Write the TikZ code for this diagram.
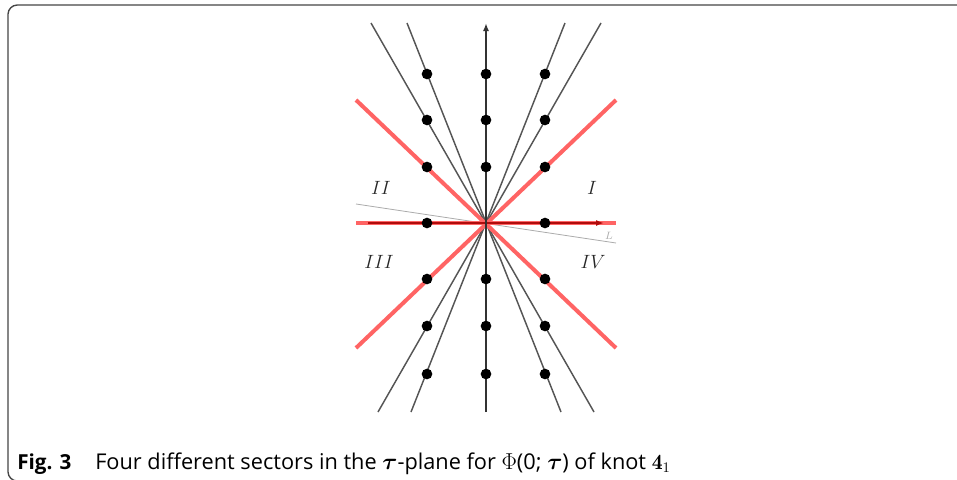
\documentclass[tikz,border=0pt]{standalone}
\usepackage{bm}
\usepackage{fontspec}
\setsansfont{Open Sans}
\usetikzlibrary{arrows.meta}
\definecolor{Salmon}{HTML}{FF6464}
\definecolor{DeepRed}{HTML}{B00C0C}
\definecolor{RayGray}{HTML}{555555}
\definecolor{AxisInk}{HTML}{333333}
\definecolor{FaintGray}{HTML}{ABABAB}
\definecolor{FrameInk}{HTML}{454545}
\tikzset{
  frame/.style={draw=FrameInk, line width=1pt, rounded corners=7pt},
  ray/.style={line width=1.1pt, draw=RayGray},
  faintray/.style={line width=0.6pt, draw=FaintGray},
  sector/.style={line width=3pt, draw=Salmon},
  realaxis/.style={-{Latex[length=6pt,width=4.5pt]}, line width=1.4pt, draw=DeepRed},
  imagaxis/.style={-{Latex[length=6pt,width=4.5pt]}, line width=1.4pt, draw=AxisInk},
  pole/.style={circle, fill=black, inner sep=0pt, minimum size=8pt},
  region/.style={font=\fontsize{13.5}{15}\selectfont, text=black!85},
  caption/.style={anchor=base west, inner sep=0pt, font=\sffamily\fontsize{15.5}{18}\selectfont}
}

\begin{document}
\begin{tikzpicture}[x=0.75pt,y=-0.75pt]
  \useasboundingbox (0,0) rectangle (957,479);
  \begin{scope}
    \clip (0,0) rectangle (957,479);
    \draw[frame] (8,5) rectangle (990,481);
  \end{scope}
  % origin and end points of the rays
  \coordinate (O) at (486,223);
  \coordinate (a1) at (371,23);  \coordinate (a2) at (594,412);
  \coordinate (b1) at (407,23);  \coordinate (b2) at (561,412);
  \coordinate (c1) at (565,23);  \coordinate (c2) at (411,412);
  \coordinate (d1) at (601,23);  \coordinate (d2) at (378,412);
  \coordinate (Lw) at (356,204); \coordinate (Le) at (616,243);
  \coordinate (nw) at (356,100); \coordinate (se) at (616,348);
  \coordinate (ne) at (616,100); \coordinate (sw) at (356,348);
  \coordinate (w) at (356,223);  \coordinate (e) at (616,223);
  \coordinate (rw) at (368,223); \coordinate (re) at (604,223);
  \coordinate (down) at (486,412); \coordinate (up) at (486,23);
  % gray rays
  \foreach \p/\q in {a1/a2,b1/b2,c1/c2,d1/d2}
    \draw[ray] (\p) -- (\q);
  \draw[faintray] (Lw) -- (Le);
  \node[font=\fontsize{8}{9}\selectfont, text=FaintGray] (Llab) at (609,236) {$L$};
  % sector boundaries
  \draw[sector] (nw) -- (se);
  \draw[sector] (ne) -- (sw);
  \draw[sector] (w) -- (e);
  \draw[realaxis] (rw) -- (re);
  \draw[imagaxis] (down) -- (up);
  % poles
  \foreach \y in {74,120,167,279,326,374}
    \node[pole] (m-\y) at (486,\y) {};
  \foreach \x in {427,545}
    \foreach \y in {74,120,167,223,279,326,374}
      \node[pole] (p-\x-\y) at (\x,\y) {};
  % sectors
  \node[region] (s2) at (381,188) {$II$};
  \node[region] (s1) at (592,188) {$I$};
  \node[region] (s3) at (379,262) {$III$};
  \node[region] (s4) at (593,262) {$IV$};
  % caption
  \node[caption] (fig) at (17,469) {\textbf{Fig. 3}};
  \node[caption, font=\sffamily\fontsize{16.3}{18}\selectfont] (cap) at (95,469) {Four different sectors in the $\bm{\tau}$-plane for $\Phi$(0; $\bm{\tau}$) of knot $\mathbf{4}_1$};
\end{tikzpicture}
\end{document}
